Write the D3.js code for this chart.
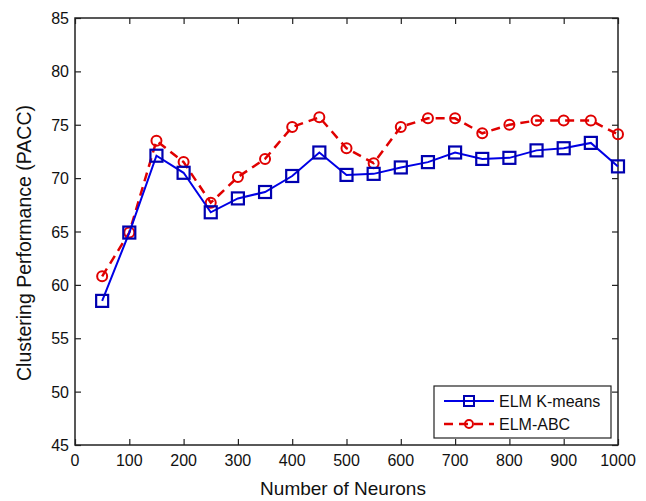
<!DOCTYPE html>
<html>
<head>
<meta charset="utf-8">
<script src="https://cdn.jsdelivr.net/npm/d3@7"></script>
<style>
  body { margin: 0; background: #fff; }
  svg { display: block; font-family: "Liberation Sans", Arial, sans-serif; }
</style>
</head>
<body>
<script>
const neurons = [50, 100, 150, 200, 250, 300, 350, 400, 450, 500, 550, 600, 650, 700, 750, 800, 850, 900, 950, 1000];
const kmeans = [58.5, 64.9, 72.1, 70.5, 66.8, 68.1, 68.7, 70.2, 72.4, 70.3, 70.4, 71.0, 71.5, 72.4, 71.8, 71.9, 72.6, 72.8, 73.3, 71.1];
const abc = [60.8, 64.9, 73.5, 71.5, 67.7, 70.1, 71.8, 74.8, 75.7, 72.8, 71.4, 74.8, 75.6, 75.6, 74.2, 75.0, 75.4, 75.4, 75.4, 74.1];
const xTicks = [0, 100, 200, 300, 400, 500, 600, 700, 800, 900, 1000];
const yTicks = [45, 50, 55, 60, 65, 70, 75, 80, 85];
const seriesNames = ["ELM K-means", "ELM-ABC"];

const width = 646, height = 501;
const plotLeft = 75, plotRight = 618, plotTop = 18, plotBottom = 445;

const svg = d3.select("body").append("svg")
    .attr("width", width)
    .attr("height", height);

const x = d3.scaleLinear().domain([0, 1000]).range([plotLeft, plotRight]);
const y = d3.scaleLinear().domain([45, 85]).range([plotBottom, plotTop]);

// ticks pointing inward, matlab style
svg.append("g")
    .attr("transform", `translate(0,${plotBottom})`)
    .call(d3.axisTop(x).tickValues(xTicks).tickSize(6).tickFormat(""))
    .call(g => g.select(".domain").remove());
svg.append("g")
    .attr("transform", `translate(0,${plotTop})`)
    .call(d3.axisBottom(x).tickValues(xTicks).tickSize(6).tickFormat(""))
    .call(g => g.select(".domain").remove());
svg.append("g")
    .attr("transform", `translate(${plotLeft},0)`)
    .call(d3.axisRight(y).tickValues(yTicks).tickSize(6).tickFormat(""))
    .call(g => g.select(".domain").remove());
svg.append("g")
    .attr("transform", `translate(${plotRight},0)`)
    .call(d3.axisLeft(y).tickValues(yTicks).tickSize(6).tickFormat(""))
    .call(g => g.select(".domain").remove());
svg.selectAll(".tick line").attr("stroke", "#222").attr("stroke-width", 1.2);

// tick labels
svg.append("g").selectAll("text")
    .data(xTicks)
    .enter()
    .append("text")
    .attr("x", d => x(d))
    .attr("y", 466)
    .attr("text-anchor", "middle")
    .style("font-size", "16px")
    .attr("fill", "#111")
    .text(d => d);

svg.append("g").selectAll("text")
    .data(yTicks)
    .enter()
    .append("text")
    .attr("x", 69)
    .attr("y", d => y(d) + 6)
    .attr("text-anchor", "end")
    .style("font-size", "16px")
    .attr("fill", "#111")
    .text(d => d);

svg.append("rect")
    .attr("x", plotLeft)
    .attr("y", plotTop)
    .attr("width", plotRight - plotLeft)
    .attr("height", plotBottom - plotTop)
    .attr("fill", "none")
    .attr("stroke", "#222")
    .attr("stroke-width", 1.5);

svg.append("text")
    .attr("x", 343)
    .attr("y", 495)
    .attr("text-anchor", "middle")
    .style("font-size", "19px")
    .attr("fill", "#111")
    .text("Number of Neurons");

svg.append("text")
    .attr("transform", `translate(31, 243) rotate(-90)`)
    .attr("text-anchor", "middle")
    .style("font-size", "19.5px")
    .attr("fill", "#111")
    .text("Clustering Performance (PACC)");

const line = d3.line()
    .x((d, i) => x(neurons[i]))
    .y(d => y(d));

// red dashed series with circles
svg.append("path")
    .datum(abc)
    .attr("d", line)
    .attr("fill", "none")
    .attr("stroke", "#e00000")
    .attr("stroke-width", 2.5)
    .attr("stroke-dasharray", "9,6");

svg.append("g").selectAll("circle")
    .data(abc)
    .enter()
    .append("circle")
    .attr("cx", (d, i) => x(neurons[i]))
    .attr("cy", d => y(d))
    .attr("r", 5)
    .attr("fill", "none")
    .attr("stroke", "#e00000")
    .attr("stroke-width", 2);

// blue solid series with squares
svg.append("path")
    .datum(kmeans)
    .attr("d", line)
    .attr("fill", "none")
    .attr("stroke", "#0000e6")
    .attr("stroke-width", 2);

svg.append("g").selectAll("rect")
    .data(kmeans)
    .enter()
    .append("rect")
    .attr("x", (d, i) => x(neurons[i]) - 6)
    .attr("y", d => y(d) - 6)
    .attr("width", 12)
    .attr("height", 12)
    .attr("fill", "none")
    .attr("stroke", "#0000b0")
    .attr("stroke-width", 2.2);

// legend
const legend = svg.append("g").attr("id", "legend");
legend.append("rect")
    .attr("x", 434)
    .attr("y", 386)
    .attr("width", 177)
    .attr("height", 52)
    .attr("fill", "#fff")
    .attr("stroke", "#222")
    .attr("stroke-width", 1.2);

legend.append("line")
    .attr("x1", 444).attr("x2", 494)
    .attr("y1", 401).attr("y2", 401)
    .attr("stroke", "#0000e6")
    .attr("stroke-width", 2);
legend.append("rect")
    .attr("x", 464).attr("y", 396)
    .attr("width", 10).attr("height", 10)
    .attr("fill", "none")
    .attr("stroke", "#0000b0")
    .attr("stroke-width", 2);

legend.append("line")
    .attr("x1", 444).attr("x2", 494)
    .attr("y1", 424).attr("y2", 424)
    .attr("stroke", "#e00000")
    .attr("stroke-width", 2.5)
    .attr("stroke-dasharray", "9,6");
legend.append("circle")
    .attr("cx", 469).attr("cy", 424)
    .attr("r", 4)
    .attr("fill", "none")
    .attr("stroke", "#e00000")
    .attr("stroke-width", 2);

legend.selectAll("text")
    .data(seriesNames)
    .enter()
    .append("text")
    .attr("x", 499)
    .attr("y", (d, i) => 407 + i * 23)
    .style("font-size", "16px")
    .attr("fill", "#111")
    .text(d => d);
</script>
</body>
</html>
